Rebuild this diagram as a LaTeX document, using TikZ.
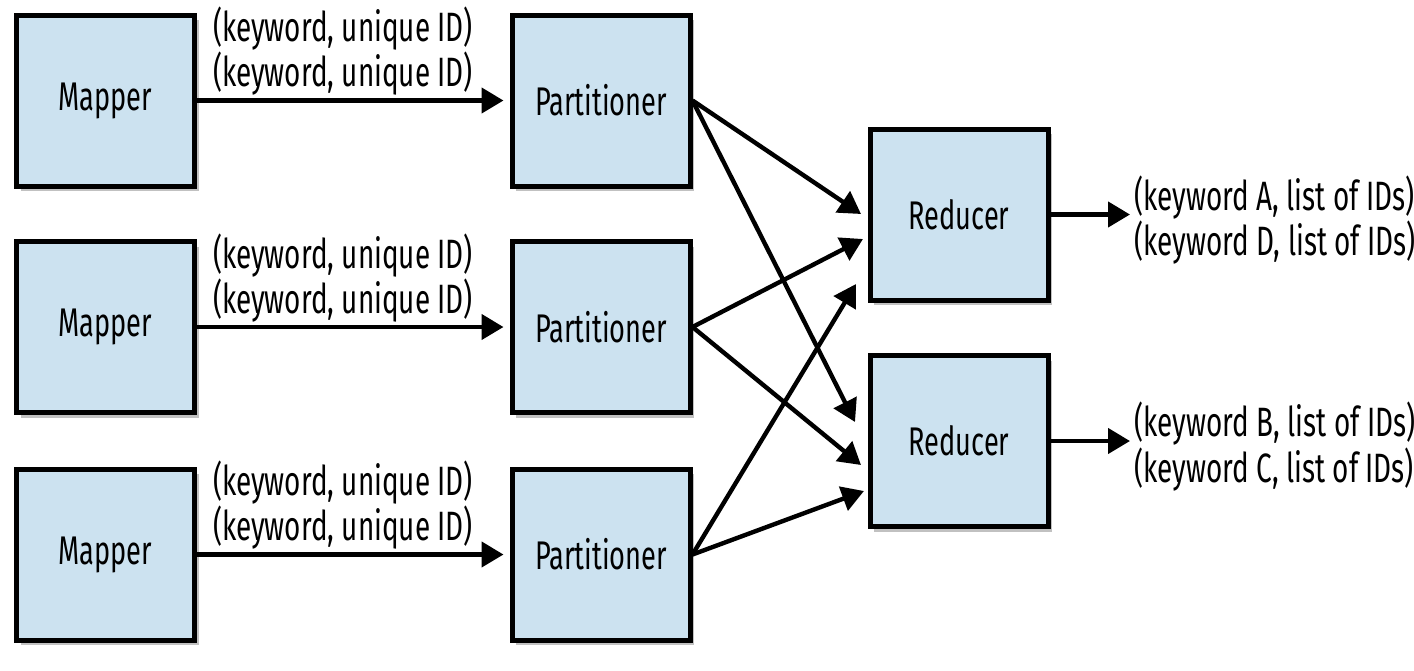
\documentclass[tikz,border=0pt]{standalone}
\usepackage{fontspec}
\setmainfont{Fira Sans}[FakeStretch=0.68]
\usetikzlibrary{arrows.meta,shadows,calc}
\definecolor{boxblue}{HTML}{CCE2F0}
\tikzset{
  box/.style={draw=black, fill=boxblue, line width=2.5pt, minimum width=89pt, minimum height=85.5pt,
    inner sep=0pt, font=\fontsize{20}{20}\selectfont,
    drop shadow={shadow xshift=2pt, shadow yshift=-2.5pt, opacity=0.35, fill=black!70}},
  conn/.style={line width=2.2pt, -{Triangle[length=11pt,width=12.5pt]}},
  lbl/.style={font=\fontsize{20.5}{19}\selectfont, inner sep=0pt}
}
\begin{document}
\begin{tikzpicture}[x=0.5pt,y=-0.5pt]
\useasboundingbox (0,0) rectangle (1414,670);
% mappers
\node[box] (m1) at (105.5,100.5) {Mapper};
\node[box] (m2) at (105.5,327) {Mapper};
\node[box] (m3) at (105.5,554.5) {Mapper};
% partitioners
\node[box] (p1) at (601,100.5) {Partitioner};
\node[box] (p2) at (601,327) {Partitioner};
\node[box] (p3) at (601,554.5) {Partitioner};
% reducers
\node[box] (r1) at (959,214.5) {Reducer};
\node[box] (r2) at (959,441) {Reducer};
% end points
\coordinate (e11) at (861,214);
\coordinate (e21) at (863,239);
\coordinate (e31) at (856,284);
\coordinate (e12) at (855,422);
\coordinate (e22) at (861,465);
\coordinate (e32) at (864,491);
\coordinate (o1) at (1130,214.5);
\coordinate (o2) at (1130,441);
% mapper -> partitioner
\draw[conn, shorten >=3pt] (m1.east) -- (p1.west);
\draw[conn, shorten >=3pt] (m2.east) -- (p2.west);
\draw[conn, shorten >=3pt] (m3.east) -- (p3.west);
\node[lbl, align=center] (l1) at (343,51) {(keyword, unique ID)\\(keyword, unique ID)};
\node[lbl, align=center] (l2) at (343,278) {(keyword, unique ID)\\(keyword, unique ID)};
\node[lbl, align=center] (l3) at (343,505) {(keyword, unique ID)\\(keyword, unique ID)};
% partitioner -> reducer
\draw[conn] (p1.east) -- (e11);
\draw[conn] (p1.east) -- (e12);
\draw[conn] (p2.east) -- (e21);
\draw[conn] (p2.east) -- (e22);
\draw[conn] (p3.east) -- (e31);
\draw[conn] (p3.east) -- (e32);
% outputs
\draw[conn] (r1.east) -- (o1);
\draw[conn] (r2.east) -- (o2);
\node[lbl, align=left, anchor=west] (t1) at (1134,220) {(keyword A, list of IDs)\\(keyword D, list of IDs)};
\node[lbl, align=left, anchor=west] (t2) at (1134,446.5) {(keyword B, list of IDs)\\(keyword C, list of IDs)};
\end{tikzpicture}
\end{document}
